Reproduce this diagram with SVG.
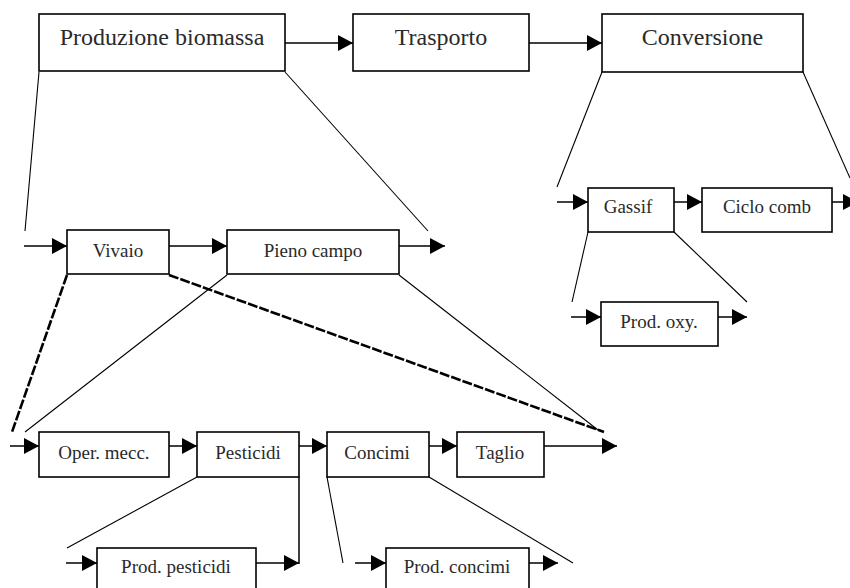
<svg xmlns="http://www.w3.org/2000/svg" width="850" height="588" viewBox="0 0 850 588">
  <style>
    .box { fill: #fff; stroke: #000; stroke-width: 1.6; }
    .big { font-family: "Liberation Serif", "Times New Roman", serif; font-size: 24px; fill: #2a2a2a; text-anchor: middle; }
    .sm { font-family: "Liberation Serif", "Times New Roman", serif; font-size: 19px; fill: #2a2a2a; text-anchor: middle; }
    .flow { stroke: #000; stroke-width: 1.5; fill: none; marker-end: url(#head); }
    .fan { stroke: #000; stroke-width: 1.1; fill: none; }
    .fanb { stroke: #000; stroke-width: 2.6; fill: none; stroke-dasharray: 10 2; }
  </style>
  <defs>
    <marker id="head" markerWidth="15" markerHeight="16" refX="15" refY="8" orient="auto" markerUnits="userSpaceOnUse">
      <path d="M0,0 L15,8 L0,16 Z" fill="#000"/>
    </marker>
  </defs>
  <rect width="850" height="588" fill="#fff"/>

  <!-- connectors: process flow arrows and expansion fans -->
  <g id="connectors">
    <line class="flow" x1="285" y1="43" x2="353" y2="43"/>
    <line class="flow" x1="529" y1="43" x2="602" y2="43"/>

    <line class="fan" x1="39" y1="72" x2="25" y2="231"/>
    <line class="fan" x1="285" y1="72" x2="428" y2="231"/>
    <line class="fan" x1="602" y1="72" x2="557" y2="187"/>
    <line class="fan" x1="803" y1="72" x2="850" y2="178"/>

    <line class="flow" x1="24" y1="246" x2="67" y2="246"/>
    <line class="flow" x1="169" y1="246" x2="227" y2="246"/>
    <line class="flow" x1="399" y1="246" x2="445" y2="246"/>

    <line class="flow" x1="557" y1="202" x2="588" y2="202"/>
    <line class="flow" x1="674" y1="202" x2="702" y2="202"/>
    <line class="flow" x1="832" y1="202" x2="858" y2="202"/>
    <line class="fan" x1="588" y1="232" x2="572" y2="302"/>
    <line class="fan" x1="674" y1="232" x2="747" y2="302"/>
    <line class="flow" x1="571" y1="317" x2="601" y2="317"/>
    <line class="flow" x1="718" y1="317" x2="747" y2="317"/>

    <line class="fanb" x1="67" y1="275" x2="12" y2="432"/>
    <line class="fanb" x1="169" y1="275" x2="604" y2="432"/>
    <line class="fan" x1="227" y1="275" x2="25" y2="432"/>
    <line class="fan" x1="399" y1="275" x2="598" y2="430"/>

    <line class="flow" x1="10" y1="446" x2="39" y2="446"/>
    <line class="flow" x1="169" y1="446" x2="197" y2="446"/>
    <line class="flow" x1="299" y1="446" x2="327" y2="446"/>
    <line class="flow" x1="429" y1="446" x2="457" y2="446"/>
    <line class="flow" x1="544" y1="446" x2="617" y2="446"/>

    <line class="fan" x1="197" y1="477" x2="67" y2="548"/>
    <line stroke="#000" stroke-width="1.5" x1="299" y1="477" x2="299" y2="564"/>
    <line class="fan" x1="327" y1="477" x2="343" y2="563"/>
    <line class="fan" x1="429" y1="477" x2="573" y2="563"/>

    <line class="flow" x1="66" y1="563" x2="97" y2="563"/>
    <line class="flow" x1="256" y1="563" x2="299" y2="563"/>
    <line class="flow" x1="355" y1="563" x2="386" y2="563"/>
    <line class="flow" x1="529" y1="563" x2="558" y2="563"/>
  </g>

  <g id="produzione">
    <rect class="box" x="39" y="14" width="246" height="57"/>
    <text class="big" x="162" y="45">Produzione biomassa</text>
  </g>
  <g id="trasporto">
    <rect class="box" x="353" y="14" width="176" height="57"/>
    <text class="big" x="441" y="45">Trasporto</text>
  </g>
  <g id="conversione">
    <rect class="box" x="602" y="14" width="201" height="58"/>
    <text class="big" x="702.5" y="45">Conversione</text>
  </g>

  <g id="vivaio">
    <rect class="box" x="67" y="230" width="102" height="44"/>
    <text class="sm" x="118" y="257">Vivaio</text>
  </g>
  <g id="pieno-campo">
    <rect class="box" x="227" y="230" width="172" height="44"/>
    <text class="sm" x="313" y="257">Pieno campo</text>
  </g>

  <g id="gassif">
    <rect class="box" x="588" y="188" width="86" height="44"/>
    <text class="sm" x="628" y="213">Gassif</text>
  </g>
  <g id="ciclo-comb">
    <rect class="box" x="702" y="188" width="130" height="44"/>
    <text class="sm" x="767" y="213">Ciclo comb</text>
  </g>
  <g id="prod-oxy">
    <rect class="box" x="601" y="302" width="117" height="44"/>
    <text class="sm" x="659" y="328">Prod. oxy.</text>
  </g>

  <g id="oper-mecc">
    <rect class="box" x="39" y="432" width="130" height="45"/>
    <text class="sm" x="104" y="459">Oper. mecc.</text>
  </g>
  <g id="pesticidi">
    <rect class="box" x="197" y="432" width="102" height="45"/>
    <text class="sm" x="248" y="459">Pesticidi</text>
  </g>
  <g id="concimi">
    <rect class="box" x="327" y="432" width="102" height="45"/>
    <text class="sm" x="377" y="459">Concimi</text>
  </g>
  <g id="taglio">
    <rect class="box" x="457" y="432" width="87" height="45"/>
    <text class="sm" x="500" y="459">Taglio</text>
  </g>

  <g id="prod-pesticidi">
    <rect class="box" x="97" y="548" width="159" height="50"/>
    <text class="sm" x="176" y="573">Prod. pesticidi</text>
  </g>
  <g id="prod-concimi">
    <rect class="box" x="386" y="548" width="143" height="50"/>
    <text class="sm" x="457" y="573">Prod. concimi</text>
  </g>
</svg>
